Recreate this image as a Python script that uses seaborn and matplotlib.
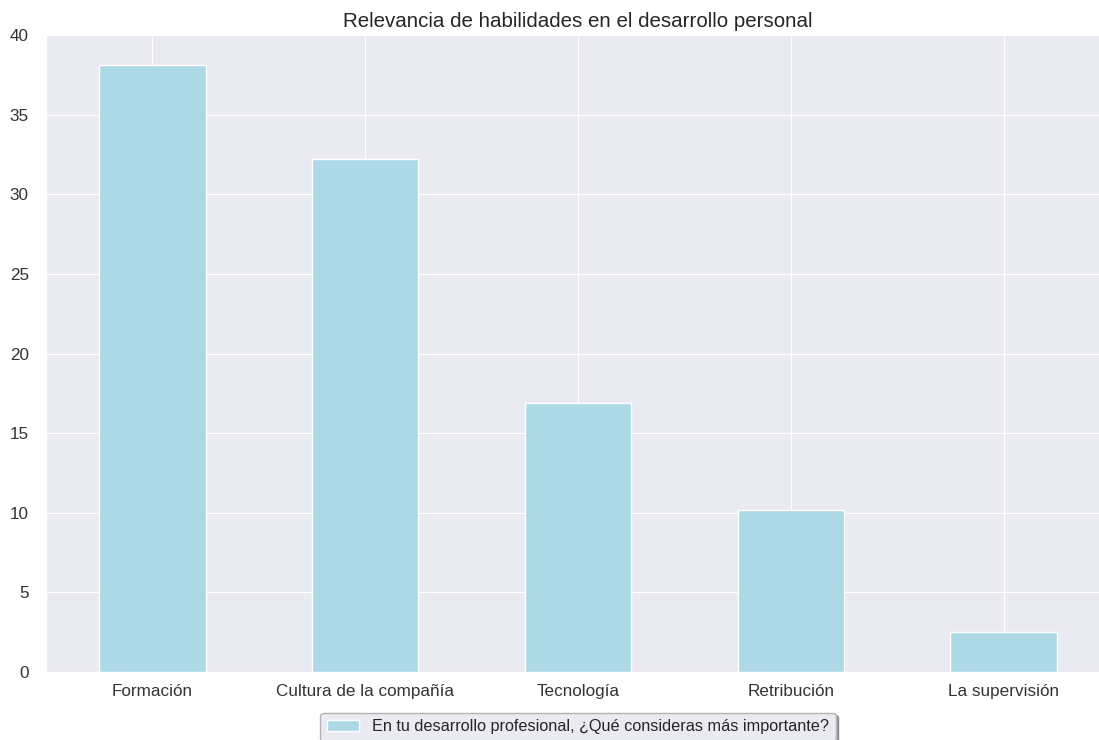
import matplotlib
matplotlib.use("Agg")
import matplotlib.pyplot as plt
import seaborn as sns

# data
categorias = ["Formación", "Cultura de la compañía", "Tecnología", "Retribución", "La supervisión"]
valores = [38.1, 32.2, 16.9, 10.2, 2.5]
serie = "En tu desarrollo profesional, ¿Qué consideras más importante?"

sns.set_style("darkgrid")
plt.rcParams['font.family'] = ['Liberation Sans', 'DejaVu Sans']

fig = plt.figure(figsize=(10.99, 7.4), dpi=100)
# axes run a bit past the right edge, as in the original
ax = fig.add_axes([46 / 1099, 68 / 740, 1064 / 1099, 637 / 740])

sns.barplot(x=categorias, y=valores, color="lightblue", saturation=1,
            width=0.5, label=serie, edgecolor="white", linewidth=1, ax=ax)

ax.xaxis.grid(True)
ax.set_ylim(0, 40)
ax.set_xlabel("")
ax.set_ylabel("")
ax.tick_params(axis="both", labelsize=12.3, labelcolor="0.2")
ax.tick_params(axis="y", pad=9)
ax.tick_params(axis="x", pad=5)
ax.set_title("Relevancia de habilidades en el desarrollo personal", fontsize=14.8)

ax.legend(loc="upper center", bbox_to_anchor=(0.5, -0.051), shadow=True,
          fontsize=11.7, frameon=True, edgecolor="0.7")

fig.savefig("out.png", dpi=100)
